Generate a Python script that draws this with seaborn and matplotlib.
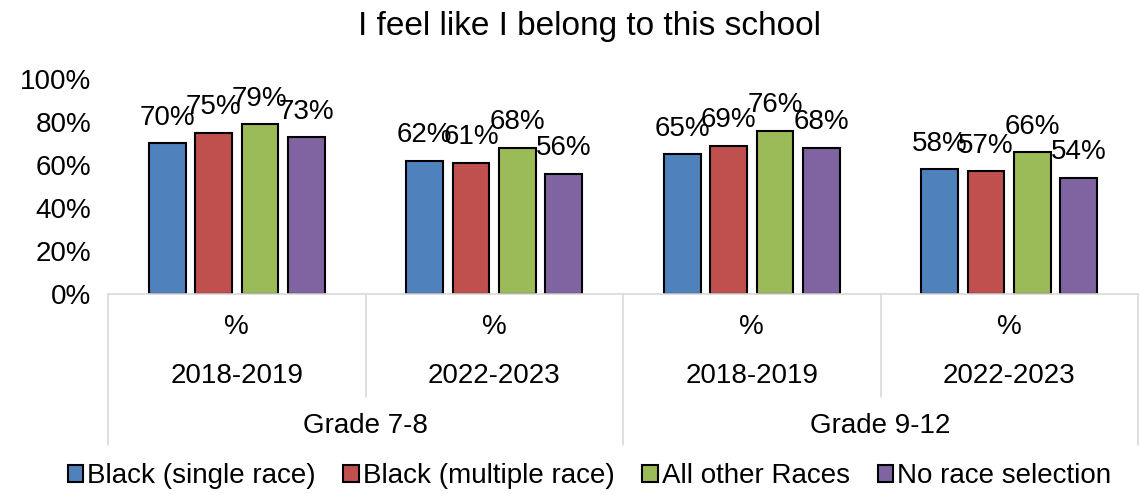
import matplotlib
matplotlib.use("Agg")
import matplotlib.pyplot as plt
import matplotlib.transforms as mtransforms
import seaborn as sns
import pandas as pd

# ---- data ----
grades = ["Grade 7-8", "Grade 9-12"]
years = ["2018-2019", "2022-2023"]
measure = "%"
races = ["Black (single race)", "Black (multiple race)", "All other Races", "No race selection"]
g78_1819 = [70, 75, 79, 73]
g78_2223 = [62, 61, 68, 56]
g912_1819 = [65, 69, 76, 68]
g912_2223 = [58, 57, 66, 54]
yticks = [0, 20, 40, 60, 80, 100]
colors = ["#4f81bd", "#c0504d", "#9bbb59", "#8064a2"]
title = "I feel like I belong to this school"

series = [g78_1819, g78_2223, g912_1819, g912_2223]
cat_keys = []
cat_years = []
cat_grades = []
for gi, g in enumerate(grades):
    for y in years:
        cat_keys.append(f"{g}|{y}")
        cat_years.append(y)
        cat_grades.append(g)

rows = []
for key, vals in zip(cat_keys, series):
    for r, v in zip(races, vals):
        rows.append({"cat": key, "race": r, "value": v})
df = pd.DataFrame(rows)

sns.set_theme(style="white")
plt.rcParams["font.family"] = ["Liberation Sans", "DejaVu Sans"]
plt.rcParams["text.color"] = "black"
plt.rcParams["ytick.color"] = "black"
plt.rcParams["ytick.labelcolor"] = "black"

fig = plt.figure(figsize=(11.4, 4.94), dpi=100)
ax = fig.add_axes([108 / 1140, 1 - 294 / 494, (1138 - 108) / 1140, 215 / 494])

sns.barplot(data=df, x="cat", y="value", hue="race", order=cat_keys, hue_order=races,
            palette=colors, saturation=1, width=0.72, gap=0.21, edgecolor="black",
            linewidth=1.5, ax=ax, legend=True)

for cont in ax.containers:
    ax.bar_label(cont, labels=[f"{b.get_height():.0f}%" for b in cont],
                 padding=9, fontsize=20, color="black")

ax.set_ylim(0, 100)
ax.set_xlim(-0.5, len(cat_keys) - 0.5)
ax.set_yticks(yticks)
ax.set_yticklabels([f"{t}%" for t in yticks], fontsize=20, color="black")
ax.tick_params(axis="y", length=0, pad=12)
ax.set_xticks([])
ax.set_xlabel("")
ax.set_ylabel("")
for s in ["left", "right", "top"]:
    ax.spines[s].set_visible(False)
ax.spines["bottom"].set_color("#d9d9d9")
ax.spines["bottom"].set_linewidth(1.2)

trans = mtransforms.blended_transform_factory(ax.transData, ax.transAxes)
# multi-level category labels
for i, (yl, gl) in enumerate(zip(cat_years, cat_grades)):
    ax.text(i, -0.153, measure, transform=trans, ha="center", va="center", fontsize=20)
    ax.text(i, -0.381, yl, transform=trans, ha="center", va="center", fontsize=20)
for gi, g in enumerate(grades):
    ax.text(gi * 2 + 0.5, -0.614, g, transform=trans, ha="center", va="center", fontsize=20)

# divider lines
n = len(cat_keys)
for b in range(n + 1):
    xb = b - 0.5
    depth = -0.702 if b % 2 == 0 else -0.479
    ax.plot([xb, xb], [0, depth], transform=trans, color="#d9d9d9", lw=1.2, clip_on=False)

handles, labels = ax.get_legend_handles_labels()
ax.get_legend().remove()
fig.legend(handles, labels, loc="center", bbox_to_anchor=(0.517, 1 - 476 / 494), ncol=4,
           frameon=False, fontsize=20, handlelength=0.55, handleheight=0.55,
           handletextpad=0.15, columnspacing=1.0, borderaxespad=0)

fig.text(0.517, 1 - 27 / 494, title, ha="center", va="center", fontsize=24, color="black")

fig.savefig("out.png", dpi=100)
